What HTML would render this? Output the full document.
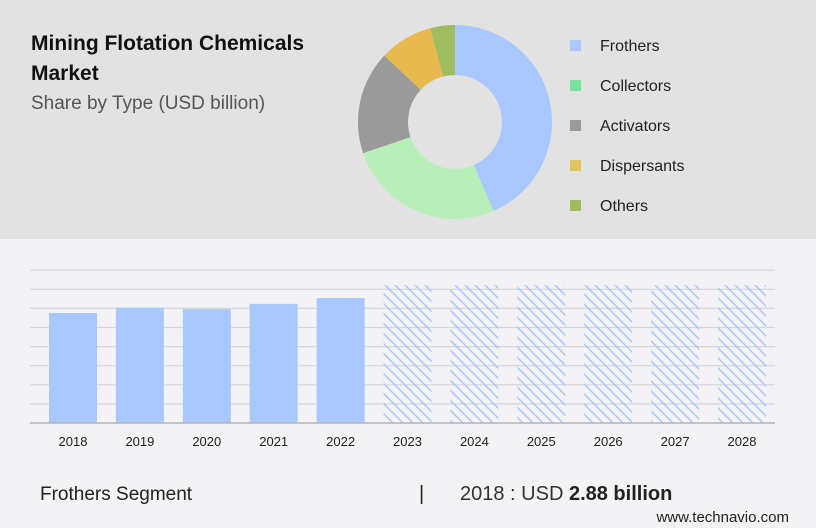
<!DOCTYPE html>
<html><head><meta charset="utf-8"><style>
body{margin:0;width:816px;height:528px;overflow:hidden;background:#f3f3f5;font-family:"Liberation Sans",sans-serif}
svg{display:block}
</style></head><body>
<svg width="816" height="528" xmlns="http://www.w3.org/2000/svg">
<defs>
<pattern id="hatch" patternUnits="userSpaceOnUse" width="10" height="10">
<path d="M0,0L10,10M-5,5L5,15M5,-5L15,5" stroke="#a8c8ff" stroke-width="1.5" fill="none"/>
</pattern>
</defs>
<rect x="0" y="0" width="816" height="239" fill="#e2e2e2"/>
<text x="31" y="50" font-size="21" font-weight="bold" fill="#111">Mining Flotation Chemicals</text>
<text x="31" y="80" font-size="21" font-weight="bold" fill="#111">Market</text>
<text x="31" y="109" font-size="19" fill="#555">Share by Type (USD billion)</text>
<g id="donut"></g>
<g id="legend"></g>
<g id="bars"></g>
<text x="40" y="500" font-size="19" fill="#222">Frothers Segment</text>
<text x="419" y="500" font-size="20" fill="#222">|</text>
<text x="460" y="500" font-size="20" fill="#333">2018 : USD <tspan font-weight="bold" fill="#222">2.88 billion</tspan></text>
<text x="789" y="522" font-size="15" fill="#222" text-anchor="end">www.technavio.com</text>
</svg>
<script>
const sliceNames=["Frothers","Collectors","Activators","Dispersants","Others"];
const sliceValues=[43.5,26.3,17.2,8.9,4.1];
const sliceColors=["#a8c8ff","#b8efb8","#9a9a9a","#e8b94e","#9fbc5e"];
const legendColors=["#a8c8ff","#77e39a","#9a9a9a","#e0c45a","#9fbc5e"];
const years=["2018","2019","2020","2021","2022","2023","2024","2025","2026","2027","2028"];
const barValues=[2.88,3.02,2.98,3.12,3.27,3.61,3.61,3.61,3.61,3.61,3.61];
const forecastFrom=5;
const NS="http://www.w3.org/2000/svg";
function mk(t,a,p){const e=document.createElementNS(NS,t);for(const k in a)e.setAttribute(k,a[k]);p.appendChild(e);return e;}
const d=document.getElementById('donut');
const cx=455,cy=122,R=97,r=47;
const tot=sliceValues.reduce((a,b)=>a+b,0);
let ang=0;
function pt(a,rad){return [cx+rad*Math.sin(a),cy-rad*Math.cos(a)];}
sliceValues.forEach((v,i)=>{
  const a0=ang,a1=ang+v/tot*2*Math.PI;ang=a1;
  const lg=(a1-a0)>Math.PI?1:0;
  const p0=pt(a0,R),p1=pt(a1,R),q1=pt(a1,r),q0=pt(a0,r);
  const el=mk('path',{d:`M${p0}A${R},${R} 0 ${lg} 1 ${p1}L${q1}A${r},${r} 0 ${lg} 0 ${q0}Z`,fill:sliceColors[i]},d);
  
  
});
const lg=document.getElementById('legend');
sliceNames.forEach((n,i)=>{
  const y=45+i*40;
  const s=mk('rect',{x:570,y:y-5,width:11,height:11,fill:legendColors[i]},lg);
  
  
  const t=mk('text',{x:600,y:y+6,'font-size':16,fill:'#222'},lg);
  t.textContent=n;
  
  
});
const b=document.getElementById('bars');
const base=423,pxPerUnit=38.2,gx0=30,gx1=775;
for(let k=1;k<=8;k++){
  const y=base-k*19.1;
  const g=mk('line',{x1:gx0,x2:gx1,y1:y,y2:y,stroke:'#d6d6da','stroke-width':1.2},b);
  
  
}
function xc(i){return 73+i*66.9;}
function yv(v){return base-v*pxPerUnit;}
years.forEach((yr,i)=>{
  const x=xc(i)-24,y=yv(barValues[i]);
  const bar=mk('rect',{x:x,y:y,width:48,height:base-y,fill:i>=forecastFrom?'url(#hatch)':'#a8c8ff'},b);
  
  
  const t=mk('text',{x:xc(i),y:446,'font-size':13,fill:'#222','text-anchor':'middle'},b);
  t.textContent=yr;
  
  
});
const ax=mk('line',{x1:gx0,x2:gx1,y1:base,y2:base,stroke:'#b5b5b8','stroke-width':1.5},b);


</script>
</body></html>
